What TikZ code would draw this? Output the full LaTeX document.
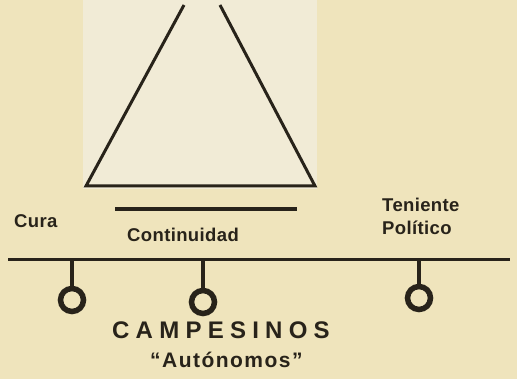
\documentclass[tikz,border=0pt]{standalone}
\usepackage{fontspec}
\setmainfont{Liberation Sans}
\definecolor{paper}{RGB}{239,228,188}
\definecolor{lightpaper}{RGB}{241,235,214}
\definecolor{ink}{RGB}{40,35,26}
\tikzset{
  inkline/.style={draw=ink, line width=3pt},
  ring/.style={circle, draw=ink, line width=5.5pt, minimum size=23pt, inner sep=0pt},
  lbl/.style={anchor=base west, inner sep=0pt, text=ink, font=\bfseries\fontsize{18.5}{21}\selectfont\addfontfeatures{LetterSpace=2}},
  biglbl/.style={anchor=base west, inner sep=0pt, text=ink, font=\bfseries\fontsize{24}{27}\selectfont\addfontfeatures{LetterSpace=26}},
  midlbl/.style={anchor=base west, inner sep=0pt, text=ink, font=\bfseries\fontsize{21}{24}\selectfont\addfontfeatures{LetterSpace=7}}
}
\begin{document}
\begin{tikzpicture}[x=1pt, y=-1pt]
\fill[paper] (0,0) rectangle (517,379);
\useasboundingbox (0,0) rectangle (517,379);
\fill[lightpaper] (83,0) rectangle (317,189);
% triangle
\coordinate (tl) at (184,5);
\coordinate (tr) at (220,5);
\coordinate (bl) at (86,186);
\coordinate (br) at (315,186);
\draw[inkline, line join=miter] (tl) -- (bl) -- (br) -- (tr);
% continuidad bar
\coordinate (cl) at (115,209);
\coordinate (cr) at (297,209);
\draw[inkline, line width=3.5pt] (cl) -- (cr);
% main line
\coordinate (ml) at (8,260);
\coordinate (mr) at (510,260);
\draw[inkline] (ml) -- (mr);
% stems and rings
\coordinate (s1) at (72,260);
\coordinate (s2) at (203,260);
\coordinate (s3) at (419,260);
\node[ring] (c1) at (72,300) {};
\node[ring] (c2) at (203,302) {};
\node[ring] (c3) at (419,298) {};
\draw[inkline, line width=3.5pt] (s1) -- (c1.north);
\draw[inkline, line width=3.5pt] (s2) -- (c2.north);
\draw[inkline, line width=3.5pt] (s3) -- (c3.north);
% labels
\node[lbl] (cura) at (14,228) {Cura};
\node[lbl] (cont) at (127,242) {Continuidad};
\node[lbl] (ten) at (382,212) {Teniente};
\node[lbl] (pol) at (382,235) {Político};
\node[biglbl] (camp) at (112,339) {CAMPESINOS};
\node[midlbl] (auto) at (150,367) {“Autónomos”};
\end{tikzpicture}
\end{document}
